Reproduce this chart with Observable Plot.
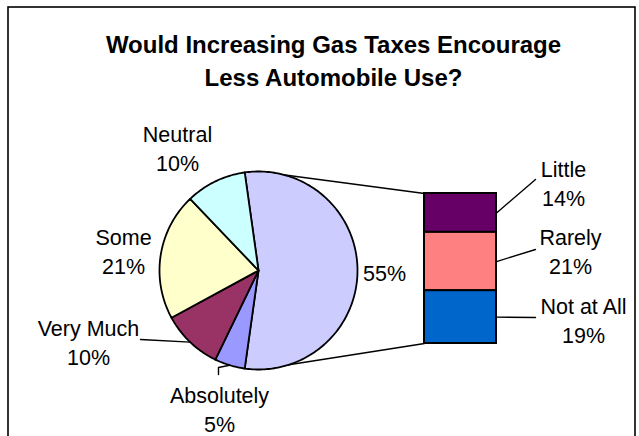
<!DOCTYPE html>
<html>
<head>
<meta charset="utf-8">
<script src="https://cdn.jsdelivr.net/npm/d3@7"></script>
<script src="https://cdn.jsdelivr.net/npm/@observablehq/plot@0.6"></script>
<style>
  body { margin: 0; background: #fff; }
</style>
</head>
<body>
<div id="chart"></div>
<script>
// Survey answers: the pie holds the main answers, "Other" is broken out into the bar.
const titleLines = ["Would Increasing Gas Taxes Encourage", "Less Automobile Use?"];
const pieCategories = ["Other", "Absolutely", "Very Much", "Some", "Neutral"];
const pieValues = [55, 5, 10, 21, 10];
const barCategories = ["Little", "Rarely", "Not at All"];
const barValues = [14, 21, 19];

// Styling and layout (pixels)
const W = 639, H = 436;
const FONT = "'Liberation Sans', Arial, sans-serif";
const LABEL_SIZE = 21.5, TITLE_SIZE = 24;
const sliceColors = {
  "Other": "#CCCCFF", "Absolutely": "#9999FF", "Very Much": "#993366",
  "Some": "#FFFFCC", "Neutral": "#CCFFFF"
};
const barColors = { "Little": "#660066", "Rarely": "#FF8080", "Not at All": "#0066CC" };
const pie = { cx: 258, cy: 270, r: 99 };
const barBox = { x0: 424, x1: 496, y0: 193, y1: 343 };
const titleLayout = { x: 333, baselines: [52, 85] };
// label anchor: center x and baseline of the first line; second line follows
const labelLayout = {
  "Other":      { x: 384, y: 280, single: true },
  "Absolutely": { x: 219, y: 402 },
  "Very Much":  { x: 88,  y: 335 },
  "Some":       { x: 123, y: 244 },
  "Neutral":    { x: 177, y: 141 },
  "Little":     { x: 563, y: 176 },
  "Rarely":     { x: 570, y: 244 },
  "Not at All": { x: 583, y: 313 }
};
const LINE_GAP = 29;
// label-side ends of the leader lines
const leaderEnds = {
  "Very Much":  [[140, 339]],
  "Absolutely": [[218, 367], [218, 374]],
  "Little":     [[535, 179]],
  "Rarely":     [[535, 249]],
  "Not at All": [[535, 317]]
};

// Pie geometry: angles clockwise from 12 o'clock, "Other" centred at 3 o'clock
const total = d3.sum(pieValues);
const otherSpan = pieValues[0] / total * 2 * Math.PI;
let a = Math.PI / 2 - otherSpan / 2;
const slices = pieCategories.map((name, i) => {
  const a0 = a, a1 = a + pieValues[i] / total * 2 * Math.PI;
  a = a1;
  return { name, value: pieValues[i], a0, a1, mid: (a0 + a1) / 2 };
});
const polar = (ang, rad = pie.r) => [pie.cx + rad * Math.sin(ang), pie.cy - rad * Math.cos(ang)];
const slicePoints = slices.flatMap(s => {
  const n = Math.max(2, Math.ceil((s.a1 - s.a0) / 0.02));
  const pts = [{ name: s.name, p: [pie.cx, pie.cy] }];
  for (let k = 0; k <= n; k++) pts.push({ name: s.name, p: polar(s.a0 + (s.a1 - s.a0) * k / n) });
  pts.push({ name: s.name, p: [pie.cx, pie.cy] });
  return pts;
});

// Bar geometry: stacked from top to bottom in proportion to the values
const barTotal = d3.sum(barValues);
const barY = d3.scaleLinear().domain([0, barTotal]).range([barBox.y0, barBox.y1]);
const barCum = d3.cumsum(barValues);
const segments = barCategories.map((name, i) => ({
  name, value: barValues[i],
  y1: barY(barCum[i] - barValues[i]), y2: barY(barCum[i])
}));

// Connector lines from the pie's top and bottom to the bar's corners
const connectors = [
  { x1: pie.cx, y1: pie.cy - pie.r, x2: barBox.x0, y2: barBox.y0 },
  { x1: pie.cx, y1: pie.cy + pie.r, x2: barBox.x0, y2: barBox.y1 }
];

// Leader lines: from the slice's middle on the rim, or the segment's middle on the bar edge
const leaders = [];
for (const s of slices) {
  if (!leaderEnds[s.name]) continue;
  const pts = [polar(s.mid), ...leaderEnds[s.name]];
  pts.forEach(p => leaders.push({ name: s.name, p }));
}
for (const g of segments) {
  const pts = [[barBox.x1, (g.y1 + g.y2) / 2], ...leaderEnds[g.name]];
  pts.forEach(p => leaders.push({ name: g.name, p }));
}

// Text rows
const labelRows = [];
const addLabel = (name, value) => {
  const L = labelLayout[name];
  const pct = `${value}%`;
  if (L.single) labelRows.push({ text: pct, x: L.x, y: L.y });
  else {
    labelRows.push({ text: name, x: L.x, y: L.y });
    labelRows.push({ text: pct, x: L.x, y: L.y + LINE_GAP });
  }
};
slices.forEach(s => addLabel(s.name, s.value));
segments.forEach(g => addLabel(g.name, g.value));
const titleRows = titleLines.map((t, i) => ({ text: t, x: titleLayout.x, y: titleLayout.baselines[i] }));

const chart = Plot.plot({
  width: W, height: H, margin: 0,
  x: { domain: [0, W], range: [0, W], axis: null },
  y: { domain: [0, H], range: [0, H], axis: null },
  style: { fontFamily: FONT, background: "#fff", color: "#000" },
  marks: [
    // outer border
    Plot.rect([{}], { x1: () => 8, x2: () => 635, y1: () => 7, y2: () => 445, fill: "none", stroke: "#000", strokeWidth: 1.6 }),
    Plot.link(connectors, { x1: "x1", y1: "y1", x2: "x2", y2: "y2", stroke: "#000", strokeWidth: 1.4 }),
    ...slices.map(s => Plot.line(slicePoints.filter(d => d.name === s.name), {
      x: d => d.p[0], y: d => d.p[1], fill: sliceColors[s.name],
      stroke: "#000", strokeWidth: 1.8, strokeLinejoin: "round"
    })),
    Plot.rect(segments, {
      x1: () => barBox.x0, x2: () => barBox.x1, y1: "y1", y2: "y2",
      fill: d => barColors[d.name], stroke: "#000", strokeWidth: 2
    }),
    Plot.line(leaders, { x: d => d.p[0], y: d => d.p[1], z: "name", stroke: "#000", strokeWidth: 1.4 }),
    Plot.text(labelRows, {
      x: "x", y: d => d.y - 0.32 * LABEL_SIZE, text: "text",
      fontSize: LABEL_SIZE, fill: "#000", textAnchor: "middle"
    }),
    Plot.text(titleRows, {
      x: "x", y: d => d.y - 0.32 * TITLE_SIZE, text: "text",
      fontSize: TITLE_SIZE, fontWeight: "bold", fill: "#000", textAnchor: "middle"
    })
  ]
});
document.getElementById("chart").appendChild(chart);
</script>
</body>
</html>
